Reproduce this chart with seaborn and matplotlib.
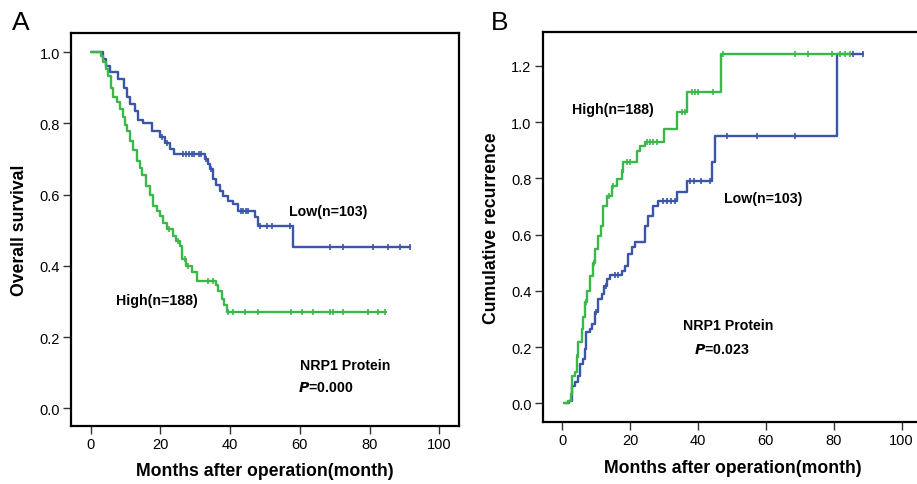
import numpy as np
import pandas as pd
import matplotlib
matplotlib.use("Agg")
import matplotlib.pyplot as plt
import seaborn as sns

sns.set_style("white")
plt.rcParams['font.family'] = ['Liberation Sans', 'DejaVu Sans']
plt.rcParams['text.color'] = 'black'
plt.rcParams['axes.labelcolor'] = 'black'
plt.rcParams['xtick.color'] = 'black'
plt.rcParams['ytick.color'] = 'black'

BLUE = '#3a55a9'
GREEN = '#3bb84a'

# ---- Panel A: overall survival ----
a_low_t = [0, 3.5, 4.5, 5.5, 8.0, 9.5, 10.5, 11.3, 12.7, 13.7, 15.0, 17.5, 19.9, 21.3, 22.7, 24.0,
           32.8, 33.6, 34.2, 35.2, 36.1, 37.2, 38.0, 39.5, 40.9, 42.3, 47.1, 48.0, 58.1, 91.6]
a_low_s = [1.0, 0.98, 0.96, 0.945, 0.925, 0.90, 0.875, 0.855, 0.835, 0.81, 0.80, 0.78, 0.762, 0.745, 0.728, 0.715,
           0.70, 0.685, 0.672, 0.645, 0.626, 0.61, 0.597, 0.583, 0.574, 0.555, 0.537, 0.513, 0.452, 0.452]
a_low_cens = [20.5, 22.0, 26.5, 27.5, 28.3, 29.0, 29.8, 31.0, 31.6, 33.0, 34.6, 43.0, 43.8, 44.5, 45.0,
              48.6, 50.5, 51.9, 57.2, 68.6, 72.4, 81.0, 85.3, 88.7, 91.6]

a_high_t = [0, 3.0, 3.6, 4.4, 5.0, 5.8, 6.5, 7.5, 8.4, 9.3, 10.0, 10.5, 11.3, 12.2, 13.2, 14.1, 14.8, 16.0,
            17.0, 17.9, 19.0, 19.9, 20.8, 21.8, 23.7, 24.6, 25.6, 26.1, 27.5, 29.0, 30.4, 36.0, 36.6, 37.6,
            38.3, 39.0, 84.8]
a_high_s = [1.0, 0.99, 0.972, 0.953, 0.934, 0.90, 0.874, 0.86, 0.84, 0.817, 0.795, 0.78, 0.752, 0.724, 0.695,
            0.675, 0.655, 0.625, 0.60, 0.569, 0.555, 0.541, 0.52, 0.504, 0.485, 0.47, 0.457, 0.419, 0.40, 0.382,
            0.358, 0.345, 0.33, 0.307, 0.29, 0.271, 0.271]
a_high_cens = [22.5, 25.0, 27.0, 28.0, 33.7, 35.0, 39.5, 40.9, 44.2, 48.1, 57.6, 60.5, 63.8, 68.6, 69.4,
               72.4, 79.6, 82.5, 84.4]

# ---- Panel B: cumulative recurrence ----
b_high_t = [0.5, 1.9, 2.6, 2.9, 3.8, 4.3, 4.8, 5.8, 6.3, 6.8, 7.4, 8.2, 9.2, 9.7, 10.7, 11.4, 12.2, 13.2,
            14.6, 16.1, 17.6, 18.0, 22.2, 23.0, 24.4, 30.1, 33.8, 36.9, 46.7, 84.8]
b_high_s = [0.0, 0.01, 0.033, 0.098, 0.11, 0.163, 0.217, 0.264, 0.306, 0.359, 0.40, 0.454, 0.50, 0.549,
            0.596, 0.631, 0.70, 0.738, 0.774, 0.797, 0.821, 0.857, 0.898, 0.916, 0.928, 0.975, 1.034, 1.108,
            1.242, 1.242]
b_high_cens = [4.5, 7.0, 9.5, 13.8, 15.0, 17.8, 19.0, 20.0, 24.9, 25.8, 26.8, 27.9, 35.2, 36.2, 38.2, 39.2,
               40.1, 44.5, 47.5, 68.6, 72.5, 79.4, 81.8, 83.3, 84.8]

b_low_t = [0.5, 2.0, 2.9, 3.8, 4.8, 5.3, 6.3, 6.8, 7.1, 8.2, 8.7, 9.7, 10.7, 11.7, 12.4, 13.3, 14.1, 17.6,
           18.5, 19.5, 20.5, 21.5, 24.4, 25.4, 26.9, 28.3, 33.8, 36.7, 44.3, 45.0, 80.9, 88.7]
b_low_s = [0.0, 0.01, 0.063, 0.075, 0.098, 0.14, 0.157, 0.193, 0.252, 0.264, 0.282, 0.324, 0.371, 0.389,
           0.418, 0.442, 0.456, 0.471, 0.489, 0.531, 0.555, 0.572, 0.631, 0.667, 0.702, 0.72, 0.75, 0.791,
           0.857, 0.951, 1.242, 1.242]
b_low_cens = [10.0, 12.8, 15.5, 16.6, 29.8, 31.0, 32.2, 33.3, 37.7, 39.0, 41.0, 43.6, 48.5, 57.3, 68.6,
              85.8, 88.7]

x_ticks = [0, 20, 40, 60, 80, 100]


def step_value(t, s, c):
    t = np.asarray(t)
    s = np.asarray(s)
    idx = np.searchsorted(t, c, side='right') - 1
    return s[np.clip(idx, 0, len(s) - 1)]


def draw_curve(ax, t, s, cens, color):
    df = pd.DataFrame({'t': t, 's': s})
    sns.lineplot(data=df, x='t', y='s', ax=ax, color=color, lw=1.7,
                 drawstyle='steps-post', estimator=None, sort=False)
    cdf = pd.DataFrame({'t': cens, 's': step_value(t, s, cens)})
    sns.scatterplot(data=cdf, x='t', y='s', ax=ax, color=color, marker='|',
                    s=24, linewidth=1.2, zorder=3)


def style_axes(ax, yticks, ylim, xlim):
    ax.set_xlim(*xlim)
    ax.set_ylim(*ylim)
    ax.set_xticks(x_ticks)
    ax.set_yticks(yticks)
    ax.set_yticklabels([f'{v:.1f}' for v in yticks])
    for sp in ax.spines.values():
        sp.set_linewidth(1.6)
        sp.set_color('black')
    ax.tick_params(axis='both', direction='out', length=6, width=1.0,
                   labelsize=10.5, color='#333333', labelcolor='black',
                   bottom=True, left=True, pad=2)


fig = plt.figure(figsize=(9.17, 4.85), dpi=100)
axA = fig.add_axes([0.0774, 0.1196, 0.4231, 0.8103])
axB = fig.add_axes([0.5918, 0.1272, 0.4137, 0.8041])

draw_curve(axA, a_low_t, a_low_s, a_low_cens, BLUE)
draw_curve(axA, a_high_t, a_high_s, a_high_cens, GREEN)
style_axes(axA, [0.0, 0.2, 0.4, 0.6, 0.8, 1.0], (-0.05, 1.054), (-5.6, 105.6))
axA.set_xlabel('Months after operation(month)', fontsize=12.7, fontweight='bold', labelpad=8)
axA.set_ylabel('Overall survival', fontsize=12.7, fontweight='bold', labelpad=8)
axA.text(57, 0.555, 'Low(n=103)', fontsize=10.2, fontweight='bold', va='center')
axA.text(7.4, 0.304, 'High(n=188)', fontsize=10.2, fontweight='bold', va='center')
axA.text(60, 0.121, 'NRP1 Protein', fontsize=10.2, fontweight='bold', va='center')
axA.text(59.5, 0.059, '$\\bfit{P}$=0.000', fontsize=10.2, fontweight='bold', va='center')

draw_curve(axB, b_low_t, b_low_s, b_low_cens, BLUE)
draw_curve(axB, b_high_t, b_high_s, b_high_cens, GREEN)
style_axes(axB, [0.0, 0.2, 0.4, 0.6, 0.8, 1.0, 1.2], (-0.0675, 1.319), (-5.7, 106))
axB.set_xlabel('Months after operation(month)', fontsize=12.7, fontweight='bold', labelpad=8)
axB.set_ylabel('Cumulative recurrence', fontsize=12.7, fontweight='bold', labelpad=8)
axB.text(3.0, 1.048, 'High(n=188)', fontsize=10.2, fontweight='bold', va='center')
axB.text(47.7, 0.731, 'Low(n=103)', fontsize=10.2, fontweight='bold', va='center')
axB.text(35.7, 0.279, 'NRP1 Protein', fontsize=10.2, fontweight='bold', va='center')
axB.text(38.9, 0.194, '$\\bfit{P}$=0.023', fontsize=10.2, fontweight='bold', va='center')

fig.text(12 / 917, 1 - 23 / 485, 'A', fontsize=19, va='center', ha='left', color='black')
fig.text(491 / 917, 1 - 23 / 485, 'B', fontsize=19, va='center', ha='left', color='black')

fig.savefig('out.png', dpi=100)
